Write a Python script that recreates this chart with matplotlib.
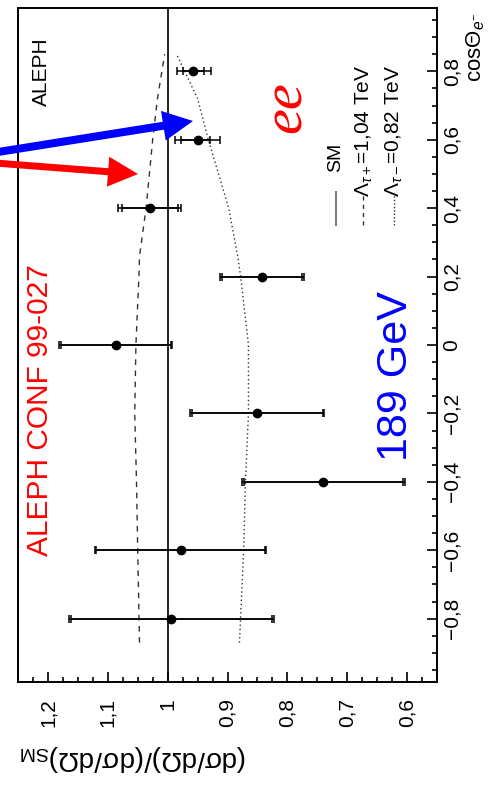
import matplotlib.pyplot as plt
from matplotlib.patches import FancyArrow
from matplotlib.transforms import IdentityTransform
from matplotlib.ticker import MultipleLocator, FuncFormatter

plt.rcParams['font.family'] = ['Liberation Sans', 'DejaVu Sans']
plt.rcParams['mathtext.fontset'] = 'custom'
plt.rcParams['mathtext.rm'] = 'Liberation Sans'
plt.rcParams['mathtext.it'] = 'Liberation Sans:italic'
plt.rcParams['mathtext.bf'] = 'Liberation Sans:bold'

# data points (cos theta, ratio to SM) with total and stat error ends
cos_theta = [0.8, 0.6, 0.4, 0.2, 0.0, -0.2, -0.4, -0.6, -0.8]
ratio = [0.957, 0.950, 1.030, 0.842, 1.087, 0.850, 0.740, 0.978, 0.995]
tot_lo = [0.928, 0.913, 0.978, 0.772, 0.992, 0.738, 0.603, 0.835, 0.823]
tot_hi = [0.985, 0.987, 1.083, 0.912, 1.182, 0.962, 0.875, 1.122, 1.165]
stat_lo = [0.940, 0.930, 0.983, 0.775, 0.995, 0.741, 0.606, 0.838, 0.826]
stat_hi = [0.975, 0.978, 1.077, 0.909, 1.178, 0.959, 0.872, 1.119, 1.162]

# model curves
cos_plus = [-0.87, -0.6, -0.4, -0.2, 0.0, 0.2, 0.26, 0.4, 0.6, 0.72, 0.85]
ratio_plus = [1.047, 1.050, 1.052, 1.055, 1.053, 1.048, 1.047, 1.036, 1.025, 1.017, 1.005]
cos_minus = [-0.87, -0.6, -0.4, -0.2, 0.0, 0.2, 0.26, 0.4, 0.6, 0.72, 0.85]
ratio_minus = [0.880, 0.873, 0.870, 0.865, 0.865, 0.878, 0.883, 0.898, 0.932, 0.950, 0.985]

W, H = 491, 792
fig = plt.figure(figsize=(W / 100, H / 100), dpi=100)
ax = fig.add_axes([18 / W, 110 / H, 419 / W, 674 / H])


def px(x, y):
    # image pixel -> figure fraction
    return x / W, 1 - y / H


ax.set_xlim(1.25, 0.55)
ax.set_ylim(-0.985, 0.985)

ax.axvline(1.0, color='black', lw=1.2)
ax.plot(ratio_plus, cos_plus, color='#333333', lw=1.0, ls=(0, (4, 4)))
ax.plot(ratio_minus, cos_minus, color='#333333', lw=1.0, ls=(0, (1, 2)))

ratio_err_tot = [[r - lo for r, lo in zip(ratio, tot_lo)], [hi - r for r, hi in zip(ratio, tot_hi)]]
ratio_err_stat = [[r - lo for r, lo in zip(ratio, stat_lo)], [hi - r for r, hi in zip(ratio, stat_hi)]]
ax.errorbar(ratio, cos_theta, xerr=ratio_err_tot, fmt='none',
            ecolor='black', elinewidth=1.1, capsize=3, capthick=1.1)
ax.errorbar(ratio, cos_theta, xerr=ratio_err_stat, fmt='o',
            color='black', ms=6, elinewidth=1.1, capsize=3, capthick=1.1)

# legend drawn by hand
ax.plot([0.718, 0.718], [0.35, 0.447], color='#808080', lw=1.5)
ax.plot([0.673, 0.673], [0.35, 0.44], color='#333333', lw=1.0, ls=(0, (3, 3)))
ax.plot([0.622, 0.622], [0.35, 0.44], color='#333333', lw=1.0, ls=(0, (1, 1.5)))
ax.text(0.72, 0.505, 'SM', rotation=90, ha='center', va='bottom', fontsize=14)
ax.text(0.671, 0.432, r'$\Lambda_{\tau+}$=1,04 TeV', rotation=90, ha='center', va='bottom', fontsize=15)
ax.text(0.621, 0.432, r'$\Lambda_{\tau-}$=0,82 TeV', rotation=90, ha='center', va='bottom', fontsize=15)


def comma(v, pos):
    s = '%g' % round(v, 3)
    return s.replace('.', ',').replace('-', '\u2212')


ax.xaxis.set_major_locator(MultipleLocator(0.1))
ax.xaxis.set_minor_locator(MultipleLocator(0.025))
ax.yaxis.set_major_locator(MultipleLocator(0.2))
ax.yaxis.set_minor_locator(MultipleLocator(0.05))
ax.xaxis.set_major_formatter(FuncFormatter(comma))
ax.yaxis.set_major_formatter(FuncFormatter(comma))
ax.yaxis.tick_right()
ax.tick_params(which='both', direction='in', width=1.2, labelsize=15)
ax.tick_params(which='major', length=7)
ax.tick_params(which='minor', length=3.5)
ax.tick_params(axis='x', labelrotation=90, pad=11.5)
ax.tick_params(axis='y', labelrotation=90, pad=4)
for lab in ax.get_yticklabels():
    lab.set_va('center')
for s in ax.spines.values():
    s.set_linewidth(1.4)

# annotations
fig.text(*px(41, 72), 'ALEPH', rotation=90, ha='center', va='center', fontsize=15)
fig.text(*px(40, 410), 'ALEPH CONF 99-027', rotation=90, ha='center', va='center',
         fontsize=21.5, color='red')
fig.text(*px(396, 376), '189 GeV', rotation=90, ha='center', va='center',
         fontsize=31, color='blue')
fig.text(*px(287, 107), 'ee', rotation=90, ha='center', va='center', fontsize=42,
         color='red', family='Liberation Serif', style='italic')
fig.text(*px(476, 47), r'cos$\Theta_{e^{-}}$', rotation=90, ha='center', va='center', fontsize=16)
fig.text(*px(133, 758), r'$\mathrm{(d\sigma/d\Omega)/(d\sigma/d\Omega)_{SM}}$', rotation=180,
         ha='center', va='center', fontsize=20)


def arrow(x0, y0, x1, y1, color, w):
    a = FancyArrow(x0, H - y0, x1 - x0, -(y1 - y0), width=w, head_width=30, head_length=30,
                   length_includes_head=True, color=color, lw=0, transform=IdentityTransform())
    fig.add_artist(a)


arrow(-5, 152.5, 193, 121, 'blue', 8)
arrow(-5, 163, 138, 174, 'red', 7)

fig.savefig('out.png', dpi=100)
